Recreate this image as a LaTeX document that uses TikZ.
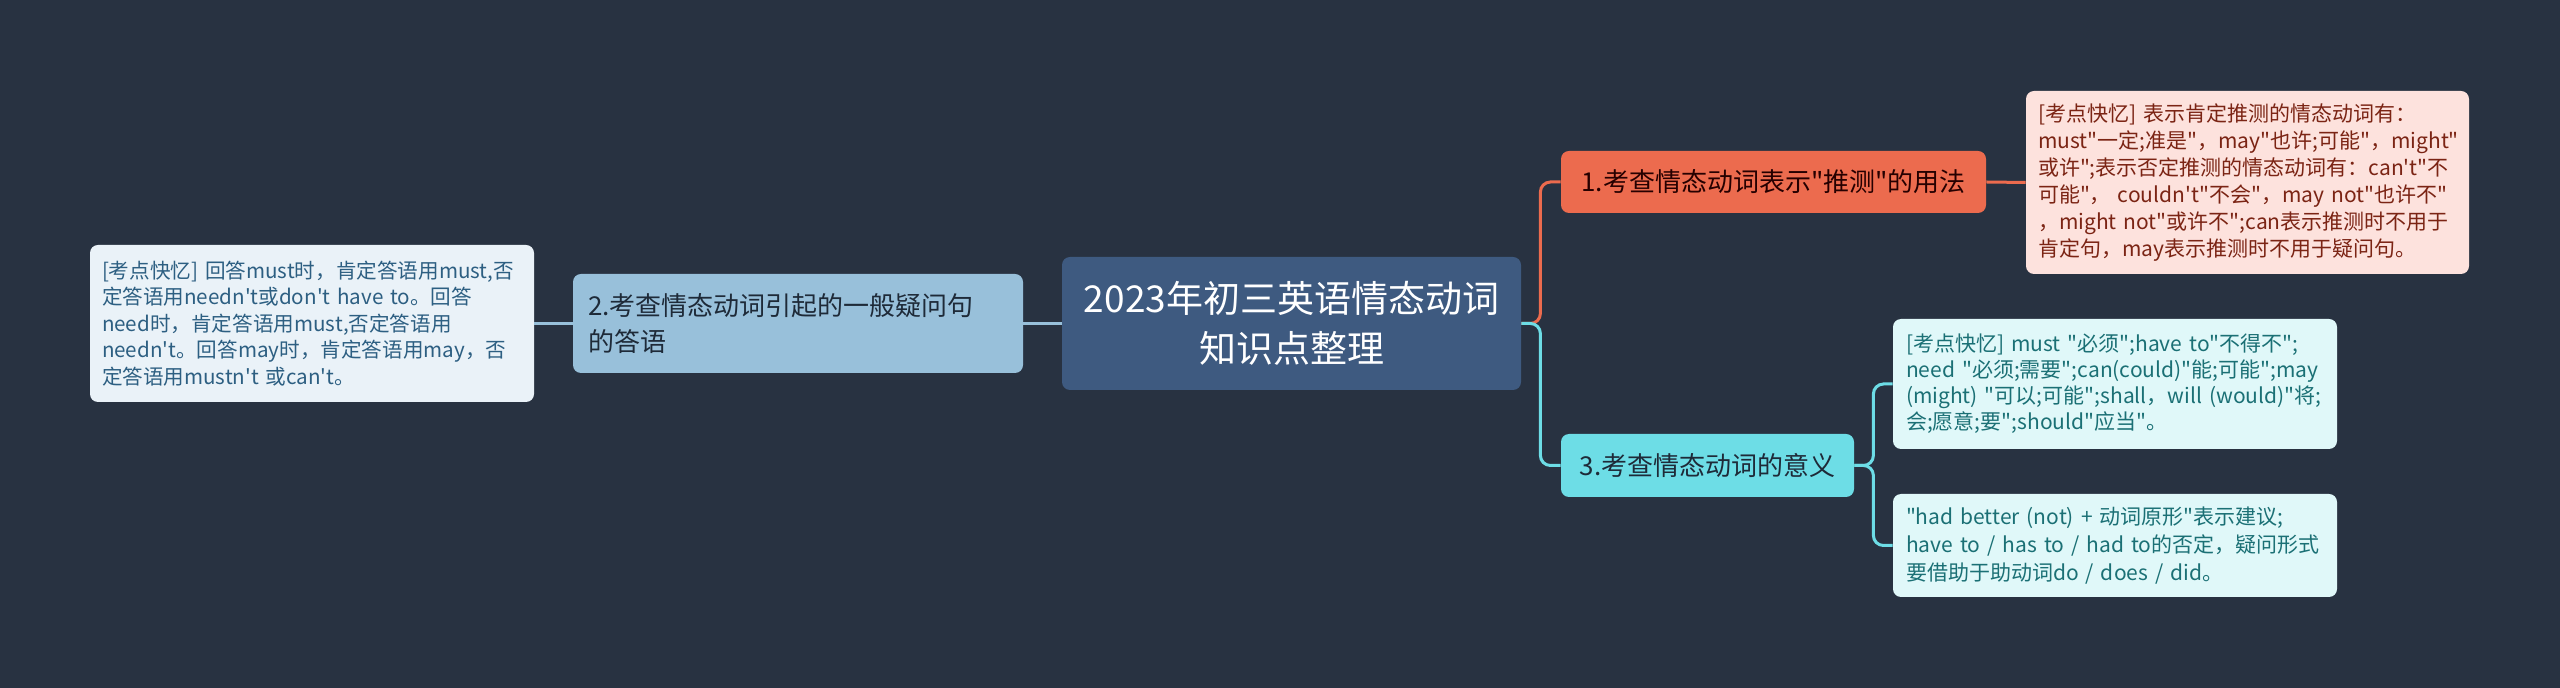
\documentclass[tikz,border=0pt]{standalone}
\usepackage{fontspec}
\usepackage{xcolor}
\newfontfamily\cjkfont{Noto Sans CJK SC}

\definecolor{bgcol}{HTML}{283241}
\definecolor{rootfill}{HTML}{3E5A80}
\definecolor{bluefill}{HTML}{98C0DA}
\definecolor{bluenote}{HTML}{EAF2F8}
\definecolor{bluetext}{HTML}{2D5F82}
\definecolor{redfill}{HTML}{EC6B4E}
\definecolor{rednote}{HTML}{FDE2DD}
\definecolor{redtext}{HTML}{7B2414}
\definecolor{cyanfill}{HTML}{6DDDE6}
\definecolor{cyannote}{HTML}{E0F8F9}
\definecolor{cyantext}{HTML}{1B7075}
\definecolor{darktext}{HTML}{1E2A38}

\begin{document}
\begin{tikzpicture}[
    x=0.5pt, y=-0.5pt,
    box/.style={rectangle, rounded corners=4pt, inner ysep=0pt},
    root/.style={box, fill=rootfill, text=white, align=center,
        minimum width=229.5pt, minimum height=66.5pt,
        font=\cjkfont\fontsize{18.5}{25}\selectfont},
    topic/.style={box, text=darktext, inner xsep=7.5pt, minimum height=31pt,
        font=\cjkfont\fontsize{13}{18}\selectfont},
    note/.style={box, align=left, inner xsep=6pt, text width=210pt,
        font=\cjkfont\fontsize{10.5}{13.25}\selectfont},
    link/.style={line width=1.5pt, rounded corners=5pt},
]

%--- Background / page size ---
\fill[bgcol] (0,0) rectangle (2560,688);
\useasboundingbox (0,0) rectangle (2560,688);

\def\gap{19} % stub before a branch turns

%--- Root ---
\node[root] (ctr) at (1291.5,323.5) {2023年初三英语情态动词\\知识点整理};

%--- Left branch ---
\node[topic, fill=bluefill, align=left, text width=210pt, minimum height=49.5pt]
    (b2) at (798,323.5) {2.考查情态动词引起的一般疑问句\\的答语};
\node[note, fill=bluenote, text=bluetext, minimum height=78.5pt,
    font=\cjkfont\fontsize{10.3}{13.25}\selectfont]
    (n2) at (312,323.5)
    {[考点快忆]~回答must时，肯定答语用must,否\\
     定答语用needn't或don't~have~to。回答\\
     need时，肯定答语用must,否定答语用\\
     needn't。回答may时，肯定答语用may，否\\
     定答语用mustn't~或can't。};

%--- Right branch 1 ---
\node[topic, fill=redfill, text=black!85!red, minimum width=212.5pt]
    (b1) at (1773.5,182) {1.考查情态动词表示"推测"的用法};
\node[note, fill=rednote, text=redtext, text width=209.5pt, minimum height=91.5pt,
    font=\cjkfont\fontsize{10.5}{13.5}\selectfont]
    (n1) at (2247.5,182.5)
    {[考点快忆] 表示肯定推测的情态动词有：\\
     must"一定;准是"，may"也许;可能"，might"\\
     或许";表示否定推测的情态动词有：can't"不\\
     可能"， couldn't"不会"，may not"也许不"\\
     ，might not"或许不";can表示推测时不用于\\
     肯定句，may表示推测时不用于疑问句。};

%--- Right branch 3 ---
\node[topic, fill=cyanfill, minimum width=146.5pt, minimum height=31.5pt]
    (b3) at (1707.5,465.5) {3.考查情态动词的意义};
\node[note, fill=cyannote, text=cyantext, inner xsep=6.5pt, text width=209pt,
    minimum height=65pt, font=\cjkfont\fontsize{10.5}{13}\selectfont]
    (n3a) at (2115,384)
    {[考点快忆] must "必须";have to"不得不";\\
     need "必须;需要";can(could)"能;可能";may\\
     (might) "可以;可能";shall，will (would)"将;\\
     会;愿意;要";should"应当"。};
\node[note, fill=cyannote, text=cyantext, inner xsep=6.5pt, text width=209pt,
    minimum height=51.5pt, font=\cjkfont\fontsize{10.5}{14}\selectfont]
    (n3b) at (2115,545.5)
    {"had better (not) + 动词原形"表示建议;\\
     have to / has to / had to的否定，疑问形式\\
     要借助于助动词do / does / did。};

%--- Connectors ---
\draw[link, bluefill] (ctr.west) -- (b2.east);
\draw[link, bluefill] (b2.west) -- (n2.east);
\draw[link, redfill] (ctr.east) -- ++(\gap,0) |- (b1.west);
\draw[link, cyanfill] (ctr.east) -- ++(\gap,0) |- (b3.west);
\draw[link, redfill] (b1.east) -- (n1.west);
\draw[link, cyanfill] (b3.east) -- ++(\gap,0) |- (n3a.west);
\draw[link, cyanfill] (b3.east) -- ++(\gap,0) |- (n3b.west);

\end{tikzpicture}
\end{document}
